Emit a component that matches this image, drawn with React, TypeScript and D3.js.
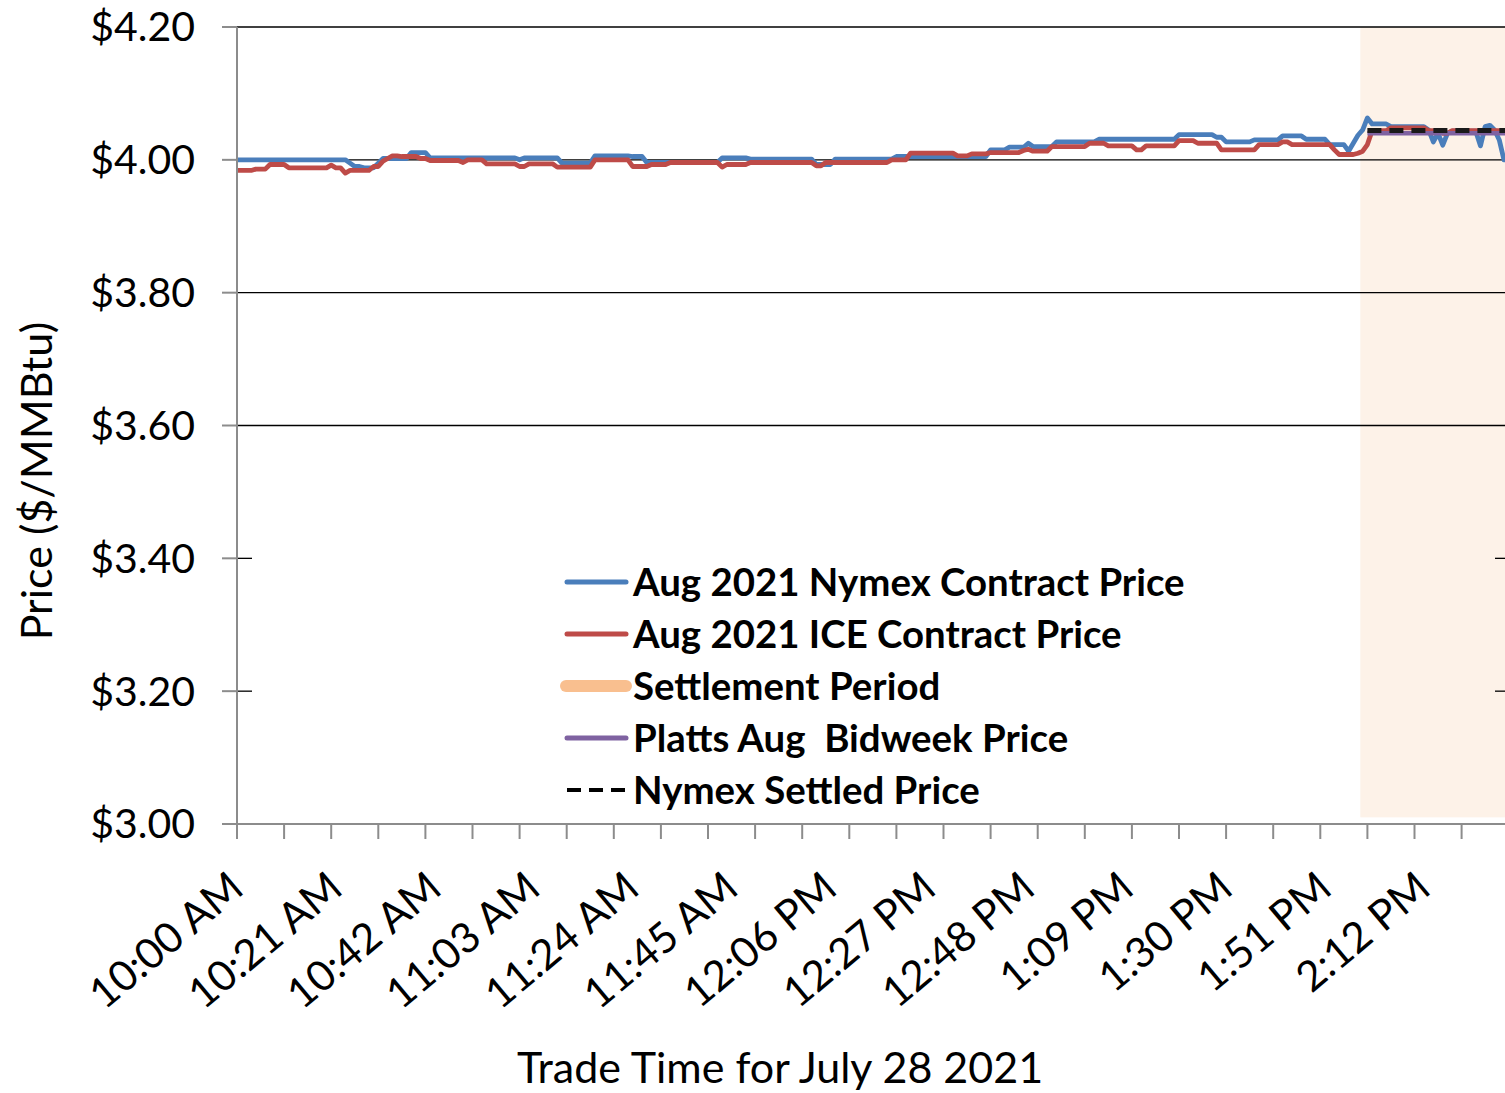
import * as d3 from 'd3';

// one point per minute, 10:00 AM .. 2:30 PM (271 points)
const nymexPrice = [
  4.000, 4.000, 4.000, 4.000, 4.000, 4.000, 4.000, 4.000, 4.000, 4.000,
  4.000, 4.000, 4.000, 4.000, 4.000, 4.000, 4.000, 4.000, 4.000, 4.000,
  4.000, 4.000, 4.000, 4.000, 3.995, 3.990, 3.990, 3.988, 3.988, 3.988,
  3.995, 4.002, 4.002, 4.002, 4.002, 4.002, 4.002, 4.011, 4.011, 4.011,
  4.011, 4.003, 4.003, 4.003, 4.003, 4.003, 4.003, 4.003, 4.003, 4.003,
  4.003, 4.003, 4.003, 4.003, 4.003, 4.003, 4.003, 4.003, 4.003, 4.003,
  4.000, 4.003, 4.003, 4.003, 4.003, 4.003, 4.003, 4.003, 4.003, 3.995,
  3.995, 3.995, 3.995, 3.995, 3.995, 3.995, 4.006, 4.006, 4.006, 4.006,
  4.006, 4.006, 4.006, 4.006, 4.005, 4.005, 4.005, 3.996, 3.996, 3.996,
  3.996, 3.996, 3.996, 3.996, 3.996, 3.996, 3.996, 3.996, 3.996, 3.996,
  3.996, 3.996, 3.996, 4.003, 4.003, 4.003, 4.003, 4.003, 4.003, 4.001,
  4.001, 4.001, 4.001, 4.001, 4.001, 4.001, 4.001, 4.001, 4.001, 4.001,
  4.001, 4.001, 4.001, 3.993, 3.993, 3.993, 3.993, 4.001, 4.001, 4.001,
  4.001, 4.001, 4.001, 4.001, 4.001, 4.001, 4.001, 4.001, 4.001, 4.001,
  4.005, 4.005, 4.005, 4.005, 4.005, 4.005, 4.005, 4.005, 4.005, 4.005,
  4.005, 4.005, 4.005, 4.005, 4.005, 4.005, 4.005, 4.005, 4.005, 4.005,
  4.015, 4.015, 4.015, 4.015, 4.019, 4.019, 4.019, 4.019, 4.025, 4.020,
  4.020, 4.020, 4.020, 4.020, 4.027, 4.027, 4.027, 4.027, 4.027, 4.027,
  4.027, 4.027, 4.027, 4.031, 4.031, 4.031, 4.031, 4.031, 4.031, 4.031,
  4.031, 4.031, 4.031, 4.031, 4.031, 4.031, 4.031, 4.031, 4.031, 4.031,
  4.038, 4.038, 4.038, 4.038, 4.038, 4.038, 4.038, 4.038, 4.034, 4.034,
  4.027, 4.027, 4.027, 4.027, 4.027, 4.027, 4.030, 4.030, 4.030, 4.030,
  4.030, 4.030, 4.036, 4.036, 4.036, 4.036, 4.036, 4.031, 4.031, 4.031,
  4.031, 4.031, 4.023, 4.023, 4.023, 4.023, 4.013, 4.025, 4.037, 4.045,
  4.063, 4.054, 4.054, 4.054, 4.054, 4.050, 4.050, 4.050, 4.050, 4.050,
  4.050, 4.050, 4.050, 4.045, 4.027, 4.040, 4.022, 4.040, 4.043, 4.043,
  4.043, 4.043, 4.043, 4.043, 4.021, 4.050, 4.052, 4.045, 4.030, 4.000,
  4.000,
];

const icePrice = [
  3.984, 3.984, 3.984, 3.984, 3.986, 3.986, 3.986, 3.993, 3.993, 3.993,
  3.993, 3.988, 3.988, 3.988, 3.988, 3.988, 3.988, 3.988, 3.988, 3.988,
  3.992, 3.988, 3.988, 3.980, 3.984, 3.984, 3.984, 3.984, 3.984, 3.990,
  3.990, 3.998, 4.002, 4.006, 4.006, 4.005, 4.005, 4.005, 4.005, 4.002,
  4.002, 3.999, 3.999, 3.999, 3.999, 3.999, 3.999, 3.999, 3.996, 4.000,
  4.000, 4.000, 4.000, 3.994, 3.994, 3.994, 3.994, 3.994, 3.994, 3.994,
  3.990, 3.990, 3.994, 3.994, 3.994, 3.994, 3.994, 3.994, 3.989, 3.989,
  3.989, 3.989, 3.989, 3.989, 3.989, 3.989, 4.000, 4.000, 4.000, 4.000,
  4.000, 4.000, 4.000, 4.000, 3.990, 3.990, 3.990, 3.990, 3.993, 3.993,
  3.993, 3.993, 3.996, 3.996, 3.996, 3.996, 3.996, 3.996, 3.996, 3.996,
  3.996, 3.996, 3.996, 3.989, 3.993, 3.993, 3.993, 3.993, 3.993, 3.996,
  3.996, 3.996, 3.996, 3.996, 3.996, 3.996, 3.996, 3.996, 3.996, 3.996,
  3.996, 3.996, 3.996, 3.991, 3.991, 3.996, 3.996, 3.996, 3.996, 3.996,
  3.996, 3.996, 3.996, 3.996, 3.996, 3.996, 3.996, 3.996, 3.996, 4.000,
  4.000, 4.000, 4.000, 4.010, 4.010, 4.010, 4.010, 4.010, 4.010, 4.010,
  4.010, 4.010, 4.010, 4.006, 4.006, 4.006, 4.009, 4.009, 4.009, 4.009,
  4.011, 4.011, 4.011, 4.011, 4.011, 4.011, 4.011, 4.014, 4.016, 4.013,
  4.013, 4.013, 4.013, 4.020, 4.020, 4.020, 4.020, 4.020, 4.020, 4.020,
  4.020, 4.025, 4.025, 4.025, 4.025, 4.021, 4.021, 4.021, 4.021, 4.021,
  4.021, 4.015, 4.015, 4.021, 4.021, 4.021, 4.021, 4.021, 4.021, 4.021,
  4.029, 4.029, 4.029, 4.029, 4.025, 4.025, 4.025, 4.025, 4.025, 4.015,
  4.015, 4.015, 4.015, 4.015, 4.015, 4.015, 4.015, 4.023, 4.023, 4.023,
  4.023, 4.023, 4.027, 4.027, 4.023, 4.023, 4.023, 4.023, 4.023, 4.023,
  4.023, 4.023, 4.023, 4.015, 4.008, 4.008, 4.008, 4.008, 4.010, 4.013,
  4.023, 4.044, 4.044, 4.044, 4.044, 4.048, 4.048, 4.048, 4.048, 4.048,
  4.048, 4.048, 4.048, 4.044, 4.044, 4.044, 4.040, 4.040, 4.044, 4.044,
  4.044, 4.044, 4.044, 4.044, 4.044, 4.044, 4.044, 4.044, 4.044, 4.044,
  4.044,
];

const timeLabels = [
  '10:00 AM', '10:21 AM', '10:42 AM', '11:03 AM', '11:24 AM', '11:45 AM', '12:06 PM',
  '12:27 PM', '12:48 PM', '1:09 PM', '1:30 PM', '1:51 PM', '2:12 PM',
];
const labelEvery = 21; // minutes between labels
const tickEvery = 10;  // minutes between tick marks

const settleStart = 239; // first minute index of shaded settlement band
const settledStart = 240;
const nymexSettled = 4.044;
const plattsBidweek = 4.04;

const priceTicks = [3.0, 3.2, 3.4, 3.6, 3.8, 4.0, 4.2];
const fullGrid = [3.6, 3.8, 4.0, 4.2];
const stubGrid = [3.2, 3.4];

const legendItems = [
  { label: 'Aug 2021 Nymex Contract Price', color: '#4A7EBB', width: 5, dash: '' },
  { label: 'Aug 2021 ICE Contract Price', color: '#BE4B48', width: 5, dash: '' },
  { label: 'Settlement Period', color: '#F9BF8F', width: 12, dash: '' },
  { label: 'Platts Aug  Bidweek Price', color: '#7F62A1', width: 5, dash: '' },
  { label: 'Nymex Settled Price', color: '#000000', width: 4, dash: '14 8' },
];

const font = 'Lato, "Open Sans", sans-serif';

export default function App() {
  const W = 1505, H = 1093;
  const n = nymexPrice.length;
  const x = d3.scaleLinear().domain([0, n - 1]).range([237, 1508.7]);
  const y = d3.scaleLinear().domain([3.0, 4.2]).range([824, 27]);
  const step = x(1) - x(0);

  const line = d3.line<number>().x((_, i) => x(i)).y(d => y(d));
  const flat = (v: number) =>
    d3.line<number>().x(d => x(d)).y(() => y(v))([settledStart, n - 1]) || '';

  const ticks = d3.range(0, n, tickEvery);

  return (
    <svg width={W} height={H} style={{ position: 'absolute', left: 0, top: 0, background: '#fff' }}
      fontFamily={font}>
      {/* settlement band */}
      <rect x={x(settleStart) - step / 2} y={y(4.2)} width={x(n - 1) - x(settleStart) + step}
        height={y(3.01) - y(4.2)} fill="#FDF2E8" />

      {/* gridlines */}
      {fullGrid.map(v => (
        <line key={v} x1={x(0)} x2={W} y1={y(v)} y2={y(v)} stroke="#000" strokeWidth={1.3} />
      ))}
      {stubGrid.map(v => (
        <g key={v}>
          <line x1={x(0)} x2={x(0) + 15} y1={y(v)} y2={y(v)} stroke="#000" strokeWidth={1.3} />
          <line x1={1495} x2={W} y1={y(v)} y2={y(v)} stroke="#000" strokeWidth={1.3} />
        </g>
      ))}

      {/* series */}
      <path d={line(nymexPrice) || ''} fill="none" stroke="#4A7EBB" strokeWidth={4.8}
        strokeLinejoin="round" />
      <path d={line(icePrice) || ''} fill="none" stroke="#BE4B48" strokeWidth={4.8}
        strokeLinejoin="round" />
      <path d={flat(plattsBidweek)} fill="none" stroke="#7F62A1" strokeWidth={4.5} />
      <path d={flat(nymexSettled)} fill="none" stroke="#1a1a1a" strokeWidth={5}
        strokeDasharray="14 8" />

      {/* axes */}
      <line x1={x(0)} x2={x(0)} y1={y(4.2)} y2={y(3.0)} stroke="#8C8C8C" strokeWidth={2} />
      <line x1={x(0)} x2={W} y1={y(3.0)} y2={y(3.0)} stroke="#8C8C8C" strokeWidth={2} />
      {priceTicks.map(v => (
        <g key={v}>
          <line x1={x(0) - 15} x2={x(0)} y1={y(v)} y2={y(v)} stroke="#8C8C8C" strokeWidth={2} />
          <text x={195} y={y(v)} dy="0.35em" textAnchor="end" fontSize={41} fill="#000">
            {d3.format('$.2f')(v)}
          </text>
        </g>
      ))}
      {ticks.map(t => (
        <line key={t} x1={x(t)} x2={x(t)} y1={y(3.0)} y2={y(3.0) + 15} stroke="#8C8C8C"
          strokeWidth={2} />
      ))}
      {timeLabels.map((lab, i) => (
        <text key={lab} transform={`translate(${x(i * labelEvery) + 9},892) rotate(-40)`}
          textAnchor="end" fontSize={42} fill="#000">{lab}</text>
      ))}

      {/* axis titles */}
      <text x={780} y={1083} textAnchor="middle" fontSize={43} fill="#000">
        Trade Time for July 28 2021
      </text>
      <text transform="translate(52,481) rotate(-90)" textAnchor="middle" fontSize={43} fill="#000">
        Price ($/MMBtu)
      </text>

      {/* legend */}
      {legendItems.map((it, i) => {
        const cy = 582 + i * 52;
        return (
          <g key={it.label}>
            <line x1={it.width > 6 ? 566 : 567} x2={626} y1={cy} y2={cy}
              stroke={it.color} strokeWidth={it.width}
              strokeLinecap={it.dash ? 'butt' : 'round'} strokeDasharray={it.dash || undefined} />
            <text x={633} y={cy} dy="0.36em" fontSize={38.4} fontWeight="bold" fill="#000"
              style={{ whiteSpace: 'pre' }}>
              {it.label}
            </text>
          </g>
        );
      })}
    </svg>
  );
}
